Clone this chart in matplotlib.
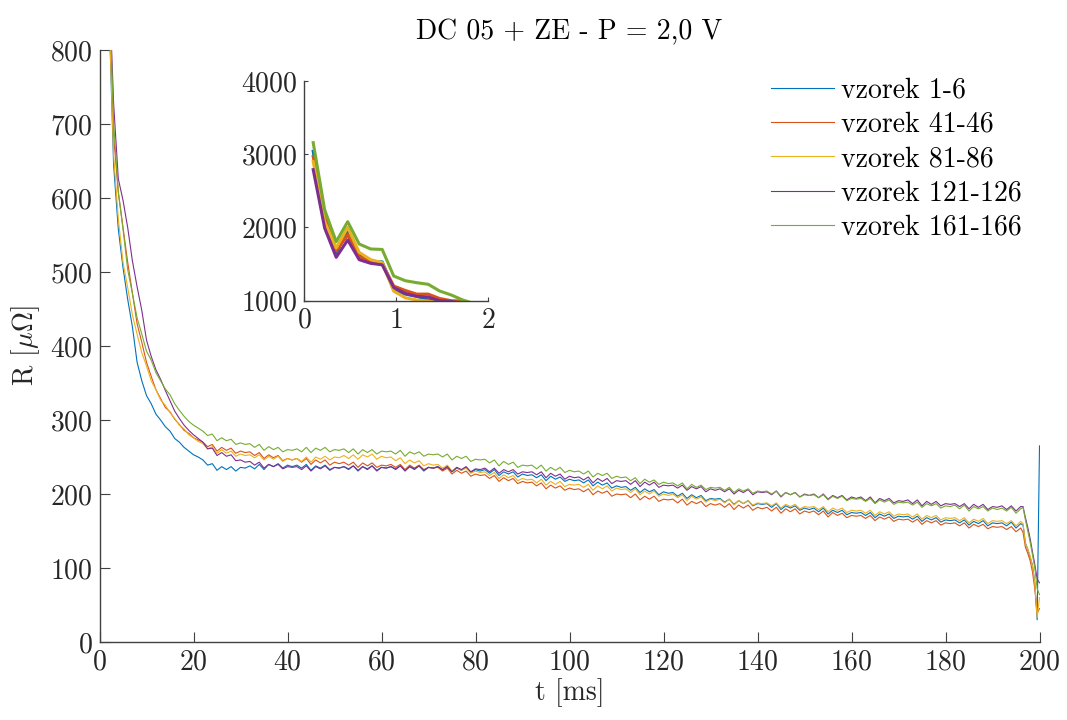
import matplotlib
matplotlib.use("Agg")
import matplotlib.pyplot as plt

plt.rcParams['font.family'] = 'serif'
plt.rcParams['font.serif'] = ['cmr10', 'DejaVu Serif']
plt.rcParams['mathtext.fontset'] = 'cm'
plt.rcParams['axes.formatter.use_mathtext'] = True

# ---------------- data ----------------
t_early = [0.1, 0.225, 0.35, 0.475, 0.6, 0.725, 0.85, 0.975, 1.1, 1.225,
           1.35, 1.475, 1.6, 1.725, 1.85]
t_mid = list(range(2, 197))
t_end = [196.5, 197, 197.5, 198, 198.5, 199, 199.5, 200]
t = t_early + t_mid + t_end

labels = ['vzorek 1-6', 'vzorek 41-46', 'vzorek 81-86', 'vzorek 121-126', 'vzorek 161-166']
colors = ['#0072BD', '#D95319', '#EDB120', '#7E2F8E', '#77AC30']

r_1_6 = (
    [3040, 2100, 1650, 1960, 1620, 1530, 1530, 1150, 1090, 1060, 1010, 980, 950, 920, 890]
    + [860, 645, 558, 506, 463, 426, 378, 353, 333, 322,
       308, 300, 291, 285, 275, 270, 263, 258, 253, 250,
       246, 239, 241, 232, 237, 233, 237, 231, 236, 235,
       238, 234, 240, 233, 240, 237, 241, 235, 239, 237,
       239, 235, 240, 232, 238, 235, 239, 233, 236, 235,
       237, 233, 238, 231, 237, 234, 238, 232, 236, 235,
       237, 234, 238, 232, 237, 233, 238, 231, 236, 235,
       237, 232, 237, 230, 235, 232, 236, 229, 233, 231,
       233, 228, 233, 225, 230, 227, 230, 223, 227, 225,
       226, 222, 226, 218, 224, 220, 223, 217, 220, 218,
       219, 215, 219, 211, 216, 212, 215, 208, 211, 209,
       210, 205, 209, 202, 207, 203, 206, 199, 203, 201,
       202, 197, 201, 194, 199, 195, 198, 191, 194, 193,
       194, 189, 193, 186, 191, 187, 191, 184, 187, 186,
       187, 182, 187, 179, 184, 181, 184, 178, 181, 179,
       181, 176, 181, 173, 178, 175, 178, 172, 175, 174,
       175, 171, 175, 168, 173, 170, 173, 167, 170, 169,
       170, 166, 170, 163, 168, 165, 168, 162, 165, 164,
       165, 161, 165, 158, 163, 160, 164, 157, 161, 160,
       161, 157, 162, 154, 160]
    + [158, 134, 125, 115, 104, 80, 30, 265]
)

r_41_46 = (
    [2970, 2150, 1680, 1900, 1600, 1540, 1510, 1200, 1140, 1090, 1090, 1030, 1000, 995, 940]
    + [880, 684, 608, 561, 513, 471, 430, 405, 378, 359,
       341, 329, 317, 311, 301, 294, 286, 282, 276, 273,
       270, 264, 267, 258, 263, 259, 262, 255, 258, 256,
       257, 252, 256, 248, 253, 249, 252, 245, 248, 246,
       248, 243, 248, 240, 246, 242, 246, 239, 243, 241,
       243, 239, 243, 236, 242, 238, 242, 236, 239, 238,
       240, 236, 240, 233, 239, 235, 239, 233, 236, 235,
       236, 231, 235, 227, 232, 228, 231, 224, 227, 225,
       226, 221, 225, 217, 222, 218, 221, 214, 217, 215,
       216, 211, 215, 207, 212, 208, 211, 205, 208, 206,
       207, 203, 207, 199, 204, 201, 204, 197, 200, 199,
       200, 195, 200, 192, 197, 193, 197, 190, 193, 192,
       193, 188, 193, 185, 190, 187, 190, 183, 187, 185,
       187, 182, 187, 179, 185, 181, 185, 178, 182, 180,
       182, 177, 182, 174, 180, 176, 180, 173, 177, 175,
       177, 172, 177, 169, 175, 171, 174, 168, 171, 170,
       171, 167, 171, 164, 169, 166, 169, 163, 166, 165,
       166, 162, 166, 159, 164, 161, 164, 158, 161, 160,
       161, 157, 161, 154, 159, 156, 159, 153, 156, 155,
       156, 152, 156, 149, 154]
    + [148, 128, 120, 110, 95, 72, 39, 45]
)

r_81_86 = (
    [2900, 2080, 1720, 2000, 1660, 1560, 1520, 1130, 1040, 1010, 995, 970, 940, 910, 880]
    + [860, 658, 572, 513, 479, 442, 416, 391, 373, 353,
       341, 327, 320, 310, 302, 293, 288, 280, 276, 271,
       268, 261, 264, 255, 260, 255, 258, 251, 254, 252,
       253, 249, 253, 246, 251, 247, 251, 244, 248, 246,
       248, 244, 250, 243, 250, 247, 251, 246, 250, 249,
       252, 248, 253, 247, 253, 250, 254, 247, 251, 249,
       250, 245, 249, 241, 246, 242, 245, 238, 241, 239,
       240, 235, 239, 231, 236, 232, 235, 228, 231, 229,
       230, 225, 229, 221, 226, 222, 225, 218, 221, 219,
       220, 215, 220, 212, 217, 213, 217, 210, 213, 212,
       213, 209, 213, 205, 211, 207, 211, 204, 208, 206,
       207, 202, 207, 199, 204, 200, 204, 197, 200, 198,
       200, 195, 199, 191, 197, 193, 196, 189, 193, 191,
       193, 188, 193, 185, 191, 187, 191, 185, 188, 187,
       188, 184, 188, 181, 186, 183, 186, 180, 183, 182,
       183, 179, 183, 176, 181, 178, 181, 175, 178, 177,
       178, 174, 178, 171, 176, 173, 176, 170, 173, 172,
       173, 169, 173, 166, 171, 168, 171, 165, 168, 167,
       168, 164, 168, 161, 166, 163, 167, 160, 164, 163,
       164, 160, 164, 157, 163]
    + [160, 133, 126, 116, 103, 80, 33, 60]
)

r_121_126 = (
    [2790, 1990, 1592, 1829, 1560, 1510, 1490, 1180, 1100, 1060, 1050, 1000, 990, 960, 930]
    + [900, 728, 626, 597, 560, 515, 480, 448, 408, 386,
       368, 355, 340, 326, 312, 302, 293, 286, 280, 275,
       270, 261, 262, 252, 256, 251, 253, 245, 246, 243,
       244, 239, 243, 235, 240, 237, 240, 234, 237, 236,
       237, 233, 238, 231, 237, 234, 238, 232, 236, 235,
       237, 234, 238, 232, 237, 233, 238, 231, 236, 235,
       237, 233, 238, 231, 237, 234, 238, 232, 236, 235,
       237, 233, 237, 230, 236, 233, 237, 230, 234, 233,
       235, 230, 235, 228, 233, 230, 233, 227, 230, 229,
       230, 226, 230, 222, 228, 224, 227, 220, 224, 222,
       223, 219, 223, 215, 221, 217, 221, 214, 218, 217,
       218, 213, 218, 210, 216, 212, 216, 209, 212, 211,
       212, 208, 212, 205, 210, 207, 210, 203, 207, 205,
       207, 203, 207, 200, 205, 202, 206, 199, 203, 202,
       203, 199, 204, 196, 202, 199, 202, 196, 200, 198,
       200, 195, 200, 193, 198, 195, 198, 192, 196, 194,
       196, 191, 196, 188, 194, 191, 194, 188, 191, 190,
       192, 187, 192, 184, 190, 186, 190, 184, 187, 186,
       187, 183, 187, 180, 186, 182, 186, 179, 183, 182,
       184, 179, 184, 177, 183]
    + [183, 168, 155, 140, 122, 105, 85, 80]
)

r_161_166 = (
    [3158, 2240, 1806, 2079, 1774, 1706, 1700, 1337, 1273, 1246, 1224, 1132, 1078, 1010, 960]
    + [900, 702, 608, 558, 503, 471, 438, 416, 393, 381,
       364, 353, 342, 334, 322, 313, 305, 298, 293, 289,
       285, 279, 281, 272, 276, 272, 274, 267, 269, 267,
       268, 263, 267, 259, 264, 260, 263, 257, 260, 259,
       261, 257, 263, 256, 262, 259, 263, 257, 260, 259,
       261, 256, 261, 254, 260, 256, 260, 254, 258, 257,
       258, 254, 259, 251, 257, 254, 257, 251, 254, 253,
       254, 250, 254, 246, 251, 248, 251, 244, 247, 246,
       247, 242, 246, 238, 244, 240, 243, 236, 239, 238,
       239, 234, 239, 231, 236, 232, 236, 229, 232, 230,
       231, 227, 231, 223, 228, 225, 228, 221, 224, 222,
       223, 218, 222, 214, 220, 216, 219, 213, 216, 214,
       215, 211, 215, 207, 213, 209, 212, 206, 209, 208,
       209, 205, 209, 202, 207, 204, 207, 201, 204, 203,
       204, 200, 204, 197, 202, 199, 202, 196, 199, 198,
       199, 195, 199, 192, 197, 194, 197, 191, 194, 193,
       194, 190, 194, 187, 192, 189, 192, 186, 189, 188,
       189, 185, 189, 182, 187, 184, 187, 181, 184, 183,
       185, 180, 185, 177, 183, 180, 183, 177, 181, 179,
       181, 177, 182, 174, 180]
    + [182, 165, 150, 135, 118, 100, 72, 64]
)

series = [r_1_6, r_41_46, r_81_86, r_121_126, r_161_166]

FS = 20
TXT = '#262626'
AXC = '#404040'

# ---------------- figure ----------------
fig = plt.figure(figsize=(10.67, 7.2), dpi=100)
ax = fig.add_axes([99.5 / 1067, 1 - 642 / 720, (1039.5 - 99.5) / 1067, (642 - 50) / 720])

for y, c, lab in zip(series, colors, labels):
    ax.plot(t, y, color=c, lw=0.8, label=lab)

ax.set_xlim(0, 200)
ax.set_ylim(0, 800)
ax.set_xticks(range(0, 201, 20))
ax.set_yticks(range(0, 801, 100))
for s in ['top', 'right']:
    ax.spines[s].set_visible(False)
for s in ['left', 'bottom']:
    ax.spines[s].set_color(AXC)
    ax.spines[s].set_linewidth(1.0)
ax.tick_params(direction='in', length=7, width=0.8, color=AXC,
               labelsize=FS, labelcolor=TXT, pad=5)
ax.set_xlabel('t [ms]', fontsize=FS, color=TXT, labelpad=2)
ax.set_ylabel(r'R [$\mu\Omega$]', fontsize=FS, color=TXT, labelpad=6)
ax.set_title('DC 05 + ZE - P = 2,0 V', fontsize=FS, color='#000000', pad=8)

leg = ax.legend(loc='upper left', bbox_to_anchor=(760 / 1067, 1 - 66 / 720),
                bbox_transform=fig.transFigure, frameon=False, fontsize=FS,
                handlelength=2.27, handletextpad=0.25, labelspacing=0.29,
                borderaxespad=0)

# ---------------- inset ----------------
axi = fig.add_axes([304 / 1067, 1 - 300.7 / 720, (488 - 304) / 1067, (300.7 - 81) / 720])
for y, c in zip(series, colors):
    axi.plot(t, y, color=c, lw=2.2)
axi.set_xlim(0, 2)
axi.set_ylim(1000, 4000)
axi.set_xticks([0, 1, 2])
axi.set_yticks([1000, 2000, 3000, 4000])
for s in ['top', 'right']:
    axi.spines[s].set_visible(False)
for s in ['left', 'bottom']:
    axi.spines[s].set_color(AXC)
    axi.spines[s].set_linewidth(1.0)
axi.tick_params(direction='in', length=3, width=0.8, color=AXC,
                labelsize=FS, labelcolor=TXT, pad=5)

fig.savefig('out.png', dpi=100)
